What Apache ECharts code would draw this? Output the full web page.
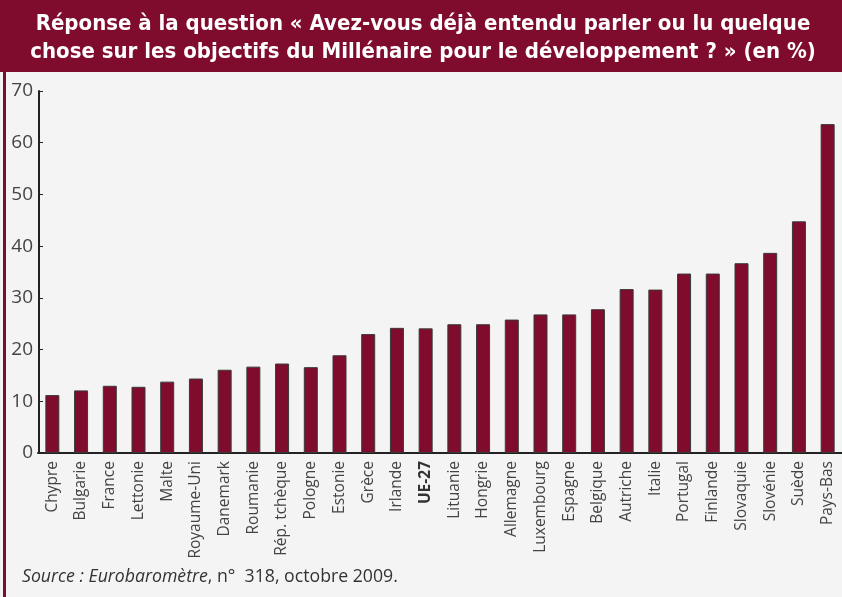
<!DOCTYPE html>
<html>
<head>
    <meta charset="utf-8">
    <title>Objectifs du Millénaire</title>
    <style>
        html, body {
            margin: 0;
            padding: 0;
            background-color: #f4f4f4;
        }
        #chart {
            width: 842px;
            height: 597px;
        }
    </style>
</head>
<body>
    <div id="chart"></div>
<script type="text/javascript" src="https://cdn.jsdelivr.net/npm/echarts@6/dist/echarts.min.js"></script>
<script type="text/javascript">
    var categories = ['Chypre', 'Bulgarie', 'France', 'Lettonie', 'Malte', 'Royaume-Uni', 'Danemark', 'Roumanie',
        'Rép. tchèque', 'Pologne', 'Estonie', 'Grèce', 'Irlande', 'UE-27', 'Lituanie', 'Hongrie', 'Allemagne',
        'Luxembourg', 'Espagne', 'Belgique', 'Autriche', 'Italie', 'Portugal', 'Finlande', 'Slovaquie',
        'Slovénie', 'Suède', 'Pays-Bas'];
    var values = [11.2, 12.1, 13.0, 12.8, 13.8, 14.4, 16.1, 16.7, 17.3, 16.6, 18.9, 23.0, 24.2, 24.1, 24.9, 24.9,
        25.8, 26.8, 26.8, 27.8, 31.7, 31.6, 34.7, 34.7, 36.7, 38.7, 44.8, 63.6];
    var yMin = 0, yMax = 70, yStep = 10;
    var boldCategory = 'UE-27';

    var red = '#7f0b2d';
    var font = "'Open Sans', 'Noto Sans', sans-serif";

    var axisData = categories.map(function (c) {
        if (c === boldCategory) {
            return { value: c, textStyle: { fontWeight: 'bold', color: '#333' } };
        }
        return c;
    });

    var myChart = echarts.init(document.getElementById('chart'), null, { renderer: 'canvas' });

    var option = {
        backgroundColor: '#f4f4f4',
        animation: false,
        graphic: [
            {
                type: 'rect',
                z: -1,
                shape: { x: 0, y: 0, width: 842, height: 72 },
                style: { fill: red }
            },
            {
                type: 'rect',
                z: -1,
                shape: { x: 3, y: 0, width: 3, height: 597 },
                style: { fill: red }
            },
            {
                type: 'text',
                x: 423,
                y: 10,
                style: {
                    text: 'Réponse à la question « Avez-vous déjà entendu parler ou lu quelque\nchose sur les objectifs du Millénaire pour le développement ? » (en %)',
                    fill: '#fff',
                    align: 'center',
                    verticalAlign: 'top',
                    lineHeight: 28,
                    font: "bold 22px 'DejaVu Sans Condensed', 'Liberation Sans Narrow', sans-serif"
                }
            },
            {
                type: 'text',
                x: 22,
                y: 568,
                style: {
                    text: '{i|Source : Eurobaromètre}, n°  318, octobre 2009.',
                    fill: '#333',
                    font: "17.7px 'Open Sans', sans-serif",
                    rich: {
                        i: {
                            fontStyle: 'italic',
                            fontSize: 17.7,
                            fontFamily: "'Open Sans', sans-serif",
                            fill: '#333'
                        }
                    }
                }
            }
        ],
        grid: {
            left: 38,
            right: -4,
            top: 91,
            bottom: 144,
            containLabel: false
        },
        xAxis: {
            type: 'category',
            data: axisData,
            boundaryGap: true,
            axisLine: { lineStyle: { color: '#222', width: 2 } },
            axisTick: { show: false },
            axisLabel: {
                rotate: 90,
                interval: 0,
                margin: 8,
                color: '#444',
                fontSize: 15.5,
                fontFamily: font
            }
        },
        yAxis: {
            type: 'value',
            min: yMin,
            max: yMax,
            interval: yStep,
            offset: -1,
            splitLine: { show: false },
            axisLine: { show: true, lineStyle: { color: '#222', width: 2 } },
            axisTick: { show: true, inside: true, length: 4, lineStyle: { color: '#222', width: 1 } },
            axisLabel: {
                margin: 6,
                color: '#444',
                fontSize: 19,
                fontFamily: font
            }
        },
        series: [
            {
                type: 'bar',
                data: values,
                barWidth: 14,
                itemStyle: {
                    color: red,
                    borderColor: '#3a3a3a',
                    borderWidth: 1
                }
            }
        ]
    };

    myChart.setOption(option);
</script>
</body>
</html>
